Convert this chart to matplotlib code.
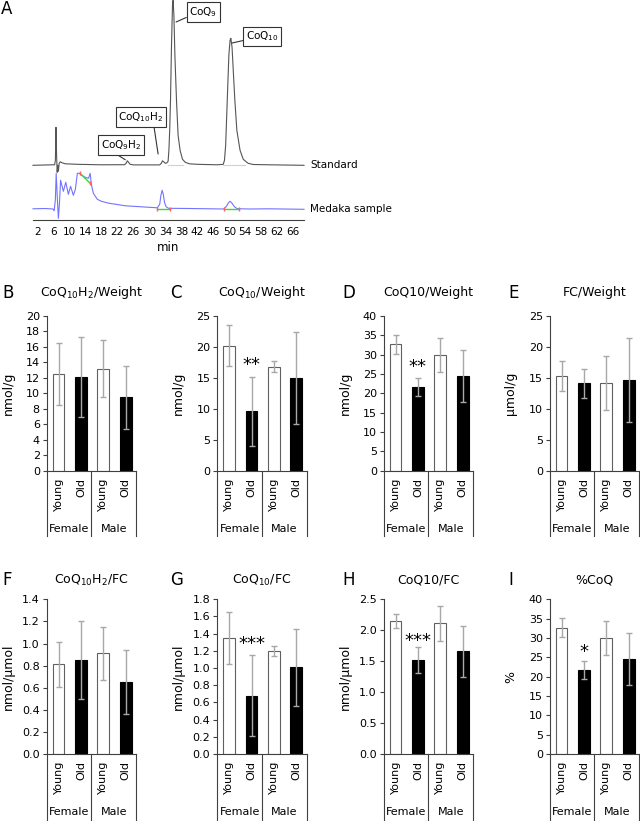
import numpy as np
import matplotlib
matplotlib.use("Agg")
import matplotlib.pyplot as plt
from matplotlib.transforms import blended_transform_factory

plt.rcParams["font.family"] = "DejaVu Sans"
plt.rcParams["mathtext.fontset"] = "dejavusans"

# ---- panel A: HPLC traces, retention time (min) vs signal
std_t = [0.9, 5.7, 6.3, 6.5, 6.65, 6.8, 6.95, 7.1, 7.25, 7.45, 7.7, 8.2, 9, 12, 18,
         23.8, 24.2, 24.5, 24.8, 25.2, 26, 32.6, 33.0, 33.3, 33.6, 34.0, 34.4,
         34.7, 34.9, 35.1, 35.3, 35.55, 35.8, 35.95, 36.15, 36.4, 36.8, 37.2, 37.7,
         38.3, 39, 40, 42, 47, 48.5, 48.8, 49.1, 49.5, 49.9, 50.2, 50.4, 50.7, 51.0,
         51.4, 51.9, 52.7, 53.5, 54.7, 56, 60, 68.7]
std_sig = [0, 0.5, 0.5, 5, 38, 10, -7, 0, -6, 2, 3.5, 2.5, 1.5, 1, 0.5,
           0.6, 2, 4.5, 3, 1, 0.4, 0.4, 2, 4.5, 3.5, 2, 2.5,
           4, 15, 35, 65, 120, 160, 165, 150, 110, 65, 30, 15,
           6, 3, 1.5, 1, 0.5, 1, 5, 20, 65, 110, 125, 127, 118, 95,
           65, 35, 15, 6, 2, 0.8, 0.5, 0]
smp_t = [0.9, 4, 5.9, 6.2, 6.5, 6.7, 7.0, 7.25, 7.5, 7.8, 8.5, 9.1, 9.75, 10.3, 11.0,
         11.5, 12.0, 12.5, 13.0, 14.0, 14.8, 15.2, 15.5, 16.0, 17.0, 18.0, 20.0, 24.0,
         28.0, 32.0, 32.6, 32.9, 33.2, 33.5, 33.8, 34.2, 34.8, 40, 48.6, 49.3, 49.8,
         50.2, 50.7, 51.3, 52.0, 55, 60, 68.7]
smp_sig = [0.5, 0.8, 0.3, -1.5, 10, 36, 10, -9, 5, 29, 18, 27, 15, 23, 14,
           20, 36, 36, 34, 32, 31, 36, 25, 16, 10, 8, 6, 3.5,
           2.5, 1.5, 5, 14, 19, 15, 7, 2.5, 1, 0.8, 0.3, 3, 6.5,
           8, 6, 2.5, 0.6, 0.3, 0.5, 0]
# integration baselines drawn on the sample trace
base_t = [[12.7, 15.2], [31.8, 35.3], [48.7, 52.5]]
base_sig = [[36, 26], [0.5, 0.5], [0.3, 0.3]]
# light grey baselines under the standard peaks
std_base_t = [[34.7, 38.5], [48.5, 54.0]]
time_ticks = list(range(2, 67, 4))

# ---- panels B-I: mean +/- SD
groups = ["Young", "Old", "Young", "Old"]
sexes = ["Female", "Male"]

b_mean = [12.5, 12.1, 13.2, 9.5]
b_err = [4.0, 5.2, 3.7, 4.05]
c_mean = [20.2, 9.6, 16.8, 15.0]
c_err = [3.3, 5.6, 0.85, 7.4]
d_mean = [32.7, 21.7, 30.0, 24.5]
d_err = [2.5, 2.35, 4.4, 6.7]
e_mean = [15.3, 14.1, 14.2, 14.7]
e_err = [2.45, 2.35, 4.4, 6.75]
f_mean = [0.81, 0.85, 0.91, 0.65]
f_err = [0.2, 0.35, 0.24, 0.29]
g_mean = [1.35, 0.68, 1.20, 1.01]
g_err = [0.3, 0.47, 0.06, 0.45]
h_mean = [2.15, 1.52, 2.11, 1.66]
h_err = [0.11, 0.21, 0.28, 0.41]
i_mean = [32.7, 21.7, 30.0, 24.5]
i_err = [2.5, 2.35, 4.4, 6.7]

W, H = 640, 821
fig = plt.figure(figsize=(W / 100, H / 100), dpi=100)


def px_axes(left, top, right, bottom):
    return fig.add_axes([left / W, 1 - bottom / H, (right - left) / W, (bottom - top) / H])


# ---------------- panel A
axA = px_axes(33, 0, 304, 220)
std_off = 44
axA.plot(std_t, np.array(std_sig) + std_off, color="#555555", lw=0.8, clip_on=False)
for seg in std_base_t:
    axA.plot(seg, [std_off, std_off], color="#d0d0d0", lw=0.8, zorder=0)
axA.plot(smp_t, smp_sig, color="#7373ff", lw=0.8, clip_on=False)
for bt, bs in zip(base_t, base_sig):
    axA.plot(bt, bs, color="#33dd33", lw=1.0)
    axA.plot(bt, bs, ls="none", marker="|", ms=3, color="#ff6060")
axA.set_xlim(0.9, 68.7)
axA.set_ylim(-10.7, 209.3)
for s in ["left", "top", "right"]:
    axA.spines[s].set_visible(False)
axA.spines["bottom"].set_color("#404040")
axA.set_yticks([])
axA.set_xticks(time_ticks)
axA.tick_params(axis="x", length=0, pad=5, labelsize=7.5)
axA.set_xlabel("min", fontsize=8.5, labelpad=3)
axA.text(70.2, std_off, "Standard", fontsize=7.5, va="center", ha="left")
axA.text(70.2, 0, "Medaka sample", fontsize=7.5, va="center", ha="left")

box = dict(boxstyle="square,pad=0.25", fc="white", ec="#333333", lw=0.8)
labels_A = [
    ("CoQ$_9$", (36.7, 187.3), (43.5, 197.3), (0, 0.2)),
    ("CoQ$_{10}$", (50.7, 166.3), (58.2, 172.8), (0, 0.25)),
    ("CoQ$_{10}$H$_2$", (32.2, 55.3), (27.9, 92.3), (0.78, 0)),
    ("CoQ$_9$H$_2$", (24.0, 49.5), (23.0, 64.3), (0.29, 0)),
]
for txt, xy, xyt, rp in labels_A:
    axA.annotate(txt, xy=xy, xytext=xyt, ha="center", va="center", fontsize=7.5,
                 bbox=box, annotation_clip=False,
                 arrowprops=dict(arrowstyle="-", color="#333333", lw=0.8,
                                 relpos=rp, shrinkA=0, shrinkB=0))
fig.text(1 / W, 1 - 9 / H, "A", fontsize=12, ha="left", va="center")


# ---------------- bar panels
def bar_panel(letter, title, ylabel, mean, err, ymax, ystep, fmt, star, star_y,
              left, top, letter_x, title_y, drop):
    ax = px_axes(left, top, left + 89.5, top + 154.7)
    x = np.arange(len(groups)) + 0.53
    ax.bar(x, mean, width=0.53, color=["white", "black", "white", "black"],
           edgecolor=["#606060", "black", "#606060", "black"], linewidth=0.8, zorder=2)
    ax.errorbar(x, mean, yerr=err, fmt="none", ecolor="#a8a8a8", elinewidth=1,
                capsize=2.5, capthick=1, zorder=3)
    ax.set_xlim(0, 4)
    ax.set_ylim(0, ymax)
    ax.set_yticks(np.arange(0, ymax + ystep / 2, ystep))
    ax.yaxis.set_major_formatter(fmt)
    ax.set_xticks(x, groups, rotation=90)
    ax.tick_params(axis="x", length=0, pad=5, labelsize=8)
    ax.tick_params(axis="y", length=3, width=0.8, color="#404040", pad=2, labelsize=8)
    for s in ["top", "right"]:
        ax.spines[s].set_visible(False)
    for s in ["left", "bottom"]:
        ax.spines[s].set_color("#404040")
        ax.spines[s].set_linewidth(0.8)
    ax.set_ylabel(ylabel, fontsize=9)
    ax.yaxis.set_label_coords(-0.36, 0.5)
    tr = blended_transform_factory(ax.transData, ax.transAxes)
    for xd in [0, 2, 4]:
        ax.plot([xd, xd], [0, -drop], transform=tr, color="#404040", lw=0.8, clip_on=False)
    for k, sx in enumerate(sexes):
        ax.text(2 * k + 1, -0.375, sx, transform=tr, ha="center", va="center", fontsize=8)
    ax.text(0.5, title_y, title, transform=ax.transAxes, ha="center", va="center", fontsize=9)
    fig.text(letter_x / W, 1 - (top - (title_y - 1) * 154.7) / H, letter,
             fontsize=12, ha="left", va="center")
    if star:
        ax.annotate(star, (x[1], star_y), xytext=(0, -7), textcoords="offset points",
                    ha="center", va="baseline", fontsize=13)
    return ax


lefts = [46.7, 217.3, 383.7, 549.7]
letter_xs = [2, 170, 342, 508]
int_fmt = "{x:.0f}"
dec_fmt = "{x:.1f}"

row1 = [
    ("B", "CoQ$_{10}$H$_2$/Weight", "nmol/g", b_mean, b_err, 20, 2, int_fmt, "", 0),
    ("C", "CoQ$_{10}$/Weight", "nmol/g", c_mean, c_err, 25, 5, int_fmt, "**", 17.8),
    ("D", "CoQ10/Weight", "nmol/g", d_mean, d_err, 40, 5, int_fmt, "**", 28.0),
    ("E", "FC/Weight", "µmol/g", e_mean, e_err, 25, 5, int_fmt, "", 0),
]
row2 = [
    ("F", "CoQ$_{10}$H$_2$/FC", "nmol/µmol", f_mean, f_err, 1.4, 0.2, dec_fmt, "", 0),
    ("G", "CoQ$_{10}$/FC", "nmol/µmol", g_mean, g_err, 1.8, 0.2, dec_fmt, "***", 1.33),
    ("H", "CoQ10/FC", "nmol/µmol", h_mean, h_err, 2.5, 0.5, dec_fmt, "***", 1.9),
    ("I", "%CoQ", "%", i_mean, i_err, 40, 5, int_fmt, "*", 27.7),
]
for k, p in enumerate(row1):
    bar_panel(*p, left=lefts[k], top=316, letter_x=letter_xs[k], title_y=1.15, drop=0.42)
for k, p in enumerate(row2):
    bar_panel(*p, left=lefts[k], top=599.3, letter_x=letter_xs[k], title_y=1.125, drop=0.44)

fig.savefig("out.png", dpi=100)
